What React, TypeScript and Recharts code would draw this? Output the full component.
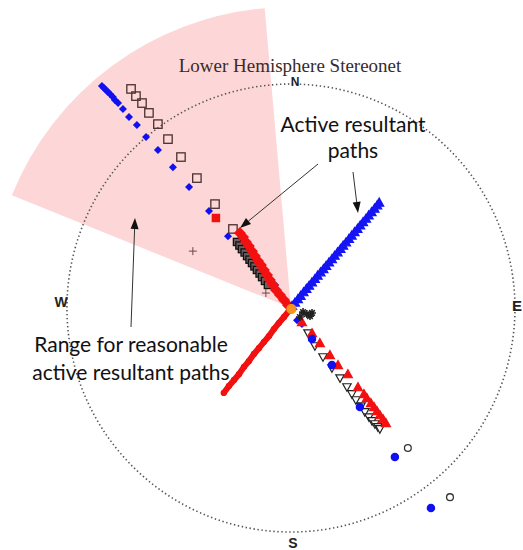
import React from 'react'
import { ScatterChart, Scatter, XAxis, YAxis, ReferenceDot } from 'recharts'

type Pt = { x: number; y: number }

const W = 523
const H = 550
// net radius = 1, centre at 0,0
const X_DOMAIN: [number, number] = [-1.299, 1.036]
const Y_DOMAIN: [number, number] = [-1.08, 1.375]
const PX = W / (X_DOMAIN[1] - X_DOMAIN[0])

// range wedge: azimuths (deg clockwise from N) and reach in net radii
const wedgeFrom = 292
const wedgeTo = 355
const wedgeReach = 1.344

const blueDiamonds: Pt[] = [
  { x: -0.844, y: 0.991 }, { x: -0.835, y: 0.982 }, { x: -0.826, y: 0.973 }, { x: -0.817, y: 0.964 },
  { x: -0.808, y: 0.955 }, { x: -0.795, y: 0.942 }, { x: -0.786, y: 0.929 }, { x: -0.772, y: 0.915 },
  { x: -0.75, y: 0.888 }, { x: -0.723, y: 0.853 }, { x: -0.688, y: 0.817 }, { x: -0.647, y: 0.763 },
  { x: -0.594, y: 0.705 }, { x: -0.527, y: 0.629 }, { x: -0.455, y: 0.54 }, { x: -0.366, y: 0.433 },
  { x: -0.281, y: 0.321 }, { x: -0.183, y: 0.246 }, { x: -0.071, y: 0.103 }, { x: 0.027, y: -0.054 },
  { x: 0.049, y: -0.071 },
]

const openSquares: Pt[] = [
  { x: -0.714, y: 0.978 }, { x: -0.692, y: 0.946 }, { x: -0.665, y: 0.915 }, { x: -0.634, y: 0.871 },
  { x: -0.594, y: 0.821 }, { x: -0.549, y: 0.754 }, { x: -0.491, y: 0.674 }, { x: -0.42, y: 0.58 },
  { x: -0.339, y: 0.464 }, { x: -0.259, y: 0.353 },
]

const darkSquares: Pt[] = [
  { x: -0.241, y: 0.295 }, { x: -0.23, y: 0.279 }, { x: -0.219, y: 0.263 }, { x: -0.207, y: 0.248 },
  { x: -0.196, y: 0.232 }, { x: -0.185, y: 0.216 }, { x: -0.174, y: 0.201 }, { x: -0.163, y: 0.186 },
  { x: -0.152, y: 0.17 }, { x: -0.14, y: 0.154 }, { x: -0.129, y: 0.138 }, { x: -0.116, y: 0.121 },
  { x: -0.103, y: 0.103 },
]

const redUpper: Pt[] = [
  { x: -0.335, y: 0.402 },
]

const redPath: Pt[] = [
  { x: -0.228, y: 0.335 }, { x: -0.214, y: 0.317 }, { x: -0.201, y: 0.295 }, { x: -0.188, y: 0.277 },
  { x: -0.174, y: 0.254 }, { x: -0.161, y: 0.232 }, { x: -0.147, y: 0.21 }, { x: -0.134, y: 0.192 },
  { x: -0.121, y: 0.17 }, { x: -0.107, y: 0.147 }, { x: -0.094, y: 0.125 }, { x: -0.08, y: 0.103 },
  { x: -0.067, y: 0.08 }, { x: -0.049, y: 0.058 }, { x: -0.031, y: 0.036 }, { x: -0.013, y: 0.013 },
]

const redLower: Pt[] = [
  { x: -0.009, y: -0.013 }, { x: -0.031, y: -0.04 }, { x: -0.054, y: -0.067 }, { x: -0.076, y: -0.094 },
  { x: -0.098, y: -0.125 }, { x: -0.121, y: -0.152 }, { x: -0.143, y: -0.179 }, { x: -0.165, y: -0.205 },
  { x: -0.188, y: -0.237 }, { x: -0.21, y: -0.263 }, { x: -0.232, y: -0.295 }, { x: -0.254, y: -0.321 },
  { x: -0.277, y: -0.348 }, { x: -0.3, y: -0.379 },
]

const blueTriangles: Pt[] = [
  { x: 0.005, y: 0.01 }, { x: 0.018, y: 0.025 }, { x: 0.031, y: 0.04 }, { x: 0.043, y: 0.055 },
  { x: 0.056, y: 0.071 }, { x: 0.069, y: 0.086 }, { x: 0.081, y: 0.1 }, { x: 0.094, y: 0.115 },
  { x: 0.107, y: 0.13 }, { x: 0.119, y: 0.145 }, { x: 0.132, y: 0.16 }, { x: 0.145, y: 0.174 },
  { x: 0.157, y: 0.189 }, { x: 0.17, y: 0.204 }, { x: 0.183, y: 0.219 }, { x: 0.195, y: 0.234 },
  { x: 0.208, y: 0.249 }, { x: 0.221, y: 0.264 }, { x: 0.233, y: 0.279 }, { x: 0.246, y: 0.294 },
  { x: 0.259, y: 0.309 }, { x: 0.271, y: 0.324 }, { x: 0.284, y: 0.339 }, { x: 0.297, y: 0.354 },
  { x: 0.309, y: 0.369 }, { x: 0.322, y: 0.384 }, { x: 0.335, y: 0.399 }, { x: 0.347, y: 0.414 },
  { x: 0.36, y: 0.429 }, { x: 0.373, y: 0.444 }, { x: 0.385, y: 0.459 }, { x: 0.394, y: 0.471 },
]

const openTriangles: Pt[] = [
  { x: 0.076, y: -0.112 }, { x: 0.107, y: -0.17 }, { x: 0.143, y: -0.219 }, { x: 0.183, y: -0.268 },
  { x: 0.219, y: -0.313 }, { x: 0.25, y: -0.353 }, { x: 0.272, y: -0.384 }, { x: 0.29, y: -0.411 },
  { x: 0.313, y: -0.438 }, { x: 0.33, y: -0.464 }, { x: 0.348, y: -0.487 }, { x: 0.362, y: -0.504 },
  { x: 0.375, y: -0.518 }, { x: 0.388, y: -0.531 }, { x: 0.397, y: -0.54 },
]

const redTriangles: Pt[] = [
  { x: 0.049, y: -0.063 }, { x: 0.094, y: -0.112 }, { x: 0.129, y: -0.156 }, { x: 0.174, y: -0.21 },
  { x: 0.21, y: -0.254 }, { x: 0.254, y: -0.295 }, { x: 0.299, y: -0.353 }, { x: 0.326, y: -0.384 },
  { x: 0.339, y: -0.402 }, { x: 0.357, y: -0.424 }, { x: 0.371, y: -0.442 }, { x: 0.384, y: -0.46 },
  { x: 0.397, y: -0.478 }, { x: 0.411, y: -0.496 }, { x: 0.424, y: -0.513 },
]

const blueCircles: Pt[] = [
  { x: 0.094, y: -0.138 }, { x: 0.183, y: -0.254 }, { x: 0.308, y: -0.442 }, { x: 0.464, y: -0.665 },
  { x: 0.625, y: -0.893 },
]

const openCircles: Pt[] = [
  { x: 0.522, y: -0.625 }, { x: 0.71, y: -0.844 },
]

const stars: Pt[] = [
  { x: 0.054, y: -0.018 }, { x: 0.071, y: -0.027 }, { x: 0.085, y: -0.036 }, { x: 0.094, y: -0.022 },
  { x: 0.04, y: -0.04 },
]

const crosses: Pt[] = [
  { x: -0.438, y: 0.254 }, { x: -0.112, y: 0.067 },
]

const centre: Pt[] = [{ x: 0.002, y: -0.004 }]

const diamond = (color: string, s: number) => (p: any) => (
  <path d={`M${p.cx},${p.cy - s}L${p.cx + s},${p.cy}L${p.cx},${p.cy + s}L${p.cx - s},${p.cy}Z`} fill={color} />
)
const square = (fill: string, stroke: string, s: number) => (p: any) => (
  <rect x={p.cx - s} y={p.cy - s} width={2 * s} height={2 * s} fill={fill} stroke={stroke} strokeWidth={1.3} />
)
const triUp = (fill: string, stroke: string, s: number) => (p: any) => (
  <path d={`M${p.cx},${p.cy - s}L${p.cx + s},${p.cy + s * 0.8}L${p.cx - s},${p.cy + s * 0.8}Z`} fill={fill} stroke={stroke} strokeWidth={1.2} />
)
const triDown = (fill: string, stroke: string, s: number) => (p: any) => (
  <path d={`M${p.cx},${p.cy + s}L${p.cx + s},${p.cy - s * 0.8}L${p.cx - s},${p.cy - s * 0.8}Z`} fill={fill} stroke={stroke} strokeWidth={1.2} />
)
const dot = (fill: string, stroke: string, r: number) => (p: any) => (
  <circle cx={p.cx} cy={p.cy} r={r} fill={fill} stroke={stroke} strokeWidth={1.3} />
)
const plus = (color: string, s: number) => (p: any) => (
  <path d={`M${p.cx - s},${p.cy}H${p.cx + s}M${p.cx},${p.cy - s}V${p.cy + s}`} stroke={color} strokeWidth={1} />
)
const star = (color: string, s: number) => (p: any) => (
  <path
    d={`M${p.cx - s},${p.cy}H${p.cx + s}M${p.cx},${p.cy - s}V${p.cy + s}M${p.cx - s * 0.7},${p.cy - s * 0.7}L${p.cx + s * 0.7},${p.cy + s * 0.7}M${p.cx - s * 0.7},${p.cy + s * 0.7}L${p.cx + s * 0.7},${p.cy - s * 0.7}`}
    stroke={color}
    strokeWidth={1.6}
  />
)

const wedgeShape = (p: any) => {
  const r = wedgeReach * PX
  const pt = (a: number) => {
    const t = (a * Math.PI) / 180
    return `${p.cx + r * Math.sin(t)},${p.cy - r * Math.cos(t)}`
  }
  return <path d={`M${p.cx},${p.cy}L${pt(wedgeFrom)}A${r},${r} 0 0 1 ${pt(wedgeTo)}Z`} fill="#fdd7d7" />
}

const netShape = (p: any) => (
  <circle cx={p.cx} cy={p.cy} r={PX} fill="none" stroke="#555" strokeWidth={1.6} strokeDasharray="1.4 2.6" />
)

const Arrow = ({ x1, y1, x2, y2 }: { x1: number; y1: number; x2: number; y2: number }) => {
  const a = Math.atan2(y2 - y1, x2 - x1)
  const L = 11
  const w = 4
  const bx = x2 - L * Math.cos(a)
  const by = y2 - L * Math.sin(a)
  const nx = -Math.sin(a) * w
  const ny = Math.cos(a) * w
  return (
    <g>
      <line x1={x1} y1={y1} x2={bx} y2={by} stroke="#333" strokeWidth={1} />
      <path d={`M${x2},${y2}L${bx + nx},${by + ny}L${bx - nx},${by - ny}Z`} fill="#111" />
    </g>
  )
}

const noteFont = { fontFamily: 'Lato, sans-serif', fontSize: 21, fill: '#111' }
const dirFont = { fontFamily: '"Liberation Sans", sans-serif', fontSize: 14, fontWeight: 700, fill: '#222' }

export default function App() {
  return (
    <div style={{ position: 'absolute', left: 0, top: 0, width: W, height: H, background: '#fff' }}>
      <ScatterChart width={W} height={H} margin={{ top: 0, right: 0, bottom: 0, left: 0 }}>
        <XAxis type="number" dataKey="x" domain={X_DOMAIN} hide allowDataOverflow />
        <YAxis type="number" dataKey="y" domain={Y_DOMAIN} hide allowDataOverflow />
        <ReferenceDot x={0} y={0} r={1} shape={wedgeShape} />
        <ReferenceDot x={0} y={0} r={1} shape={netShape} />
        <Scatter data={blueDiamonds} shape={diamond('#1010f0', 4)} isAnimationActive={false} />
        <Scatter data={openSquares} shape={square('none', '#4a3030', 4.2)} isAnimationActive={false} />
        <Scatter data={darkSquares} shape={square('#6a6060', '#111', 3.6)} isAnimationActive={false} />
        <Scatter data={redUpper} shape={square('#f21010', '#f21010', 3.6)} isAnimationActive={false} />
        <Scatter data={redPath} shape={diamond('#f21010', 6)} isAnimationActive={false} />
        <Scatter
          data={redLower}
          shape={dot('#f21010', '#f21010', 2.5)}
          line={{ stroke: '#f21010', strokeWidth: 6 }}
          isAnimationActive={false}
        />
        <Scatter data={blueTriangles} shape={triUp('#1414f5', '#1414f5', 4.5)} isAnimationActive={false} />
        <Scatter data={openTriangles} shape={triDown('#fff', '#222', 4.2)} isAnimationActive={false} />
        <Scatter data={redTriangles} shape={triUp('#f21010', '#f21010', 4.5)} isAnimationActive={false} />
        <Scatter data={blueCircles} shape={dot('#1010f0', '#1010f0', 3.6)} isAnimationActive={false} />
        <Scatter data={openCircles} shape={dot('#fff', '#333', 3.4)} isAnimationActive={false} />
        <Scatter data={stars} shape={star('#222', 4)} isAnimationActive={false} />
        <Scatter data={crosses} shape={plus('#6a4a4a', 4)} isAnimationActive={false} />
        <Scatter data={centre} shape={dot('#f5941e', '#f5941e', 4.5)} isAnimationActive={false} />
      </ScatterChart>
      <svg width={W} height={H} style={{ position: 'absolute', left: 0, top: 0, pointerEvents: 'none' }}>
        <text x={290} y={72} textAnchor="middle" style={{ fontFamily: '"Liberation Serif", serif', fontSize: 19, fill: '#3a2a2a' }}>
          Lower Hemisphere Stereonet
        </text>
        <text x={295} y={86} textAnchor="middle" style={{ ...dirFont, fontSize: 12 }}>N</text>
        <text x={61} y={307} textAnchor="middle" style={dirFont}>W</text>
        <text x={512} y={311} textAnchor="start" style={{ ...dirFont, fontSize: 15 }}>E</text>
        <text x={293} y={548} textAnchor="middle" style={dirFont}>S</text>

        <text x={353} y={132} textAnchor="middle" style={noteFont}>Active resultant</text>
        <text x={353} y={158} textAnchor="middle" style={noteFont}>paths</text>
        <text x={131} y={352} textAnchor="middle" style={noteFont}>Range for reasonable</text>
        <text x={131} y={380} textAnchor="middle" style={noteFont}>active resultant paths</text>

        <Arrow x1={131} y1={327} x2={135} y2={218} />
        <Arrow x1={318} y1={164} x2={240} y2={228} />
        <Arrow x1={353} y1={172} x2={358} y2={213} />
      </svg>
    </div>
  )
}
